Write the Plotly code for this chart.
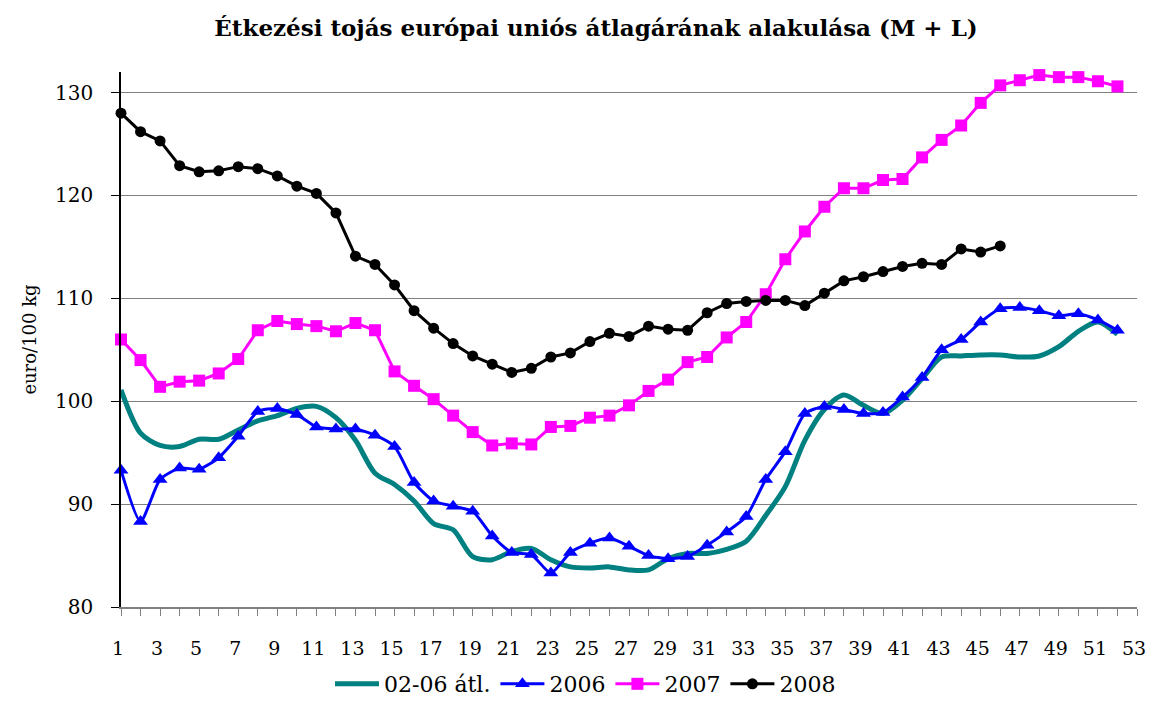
import plotly.graph_objects as go

weeks = list(range(1, 53))
weeks_2008 = list(range(1, 47))

avg_02_06 = [101.1, 96.9, 95.7, 95.6, 96.3, 96.3, 97.2, 98.1, 98.6, 99.3,
             99.5, 98.4, 96.2, 93.0, 91.9, 90.3, 88.1, 87.5, 84.9, 84.6,
             85.4, 85.7, 84.6, 83.9, 83.8, 83.9, 83.6, 83.6, 84.7, 85.2,
             85.2, 85.6, 86.4, 88.9, 91.7, 96.2, 99.2, 100.6, 99.6, 98.8,
             100.1, 102.2, 104.3, 104.4, 104.5, 104.5, 104.3, 104.4, 105.3, 106.8,
             107.7, 106.5]

y2006 = [93.3, 88.3, 92.4, 93.5, 93.4, 94.5, 96.6, 99.0, 99.3, 98.7,
         97.5, 97.3, 97.3, 96.7, 95.6, 92.1, 90.3, 89.8, 89.3, 86.9,
         85.3, 85.1, 83.3, 85.3, 86.2, 86.7, 85.9, 85.0, 84.7, 84.9,
         86.0, 87.3, 88.8, 92.4, 95.1, 98.8, 99.5, 99.2, 98.8, 98.9,
         100.4, 102.3, 105.0, 106.0, 107.7, 109.0, 109.1, 108.8, 108.3, 108.5,
         107.9, 106.9]

y2007 = [106.0, 104.0, 101.4, 101.9, 102.0, 102.7, 104.1, 106.9, 107.8, 107.5,
         107.3, 106.8, 107.6, 106.9, 102.9, 101.5, 100.2, 98.6, 97.0, 95.7,
         95.9, 95.8, 97.5, 97.6, 98.4, 98.6, 99.6, 101.0, 102.1, 103.8,
         104.3, 106.2, 107.7, 110.4, 113.8, 116.5, 118.9, 120.7, 120.7, 121.5,
         121.6, 123.7, 125.4, 126.8, 129.0, 130.7, 131.2, 131.7, 131.5, 131.5,
         131.1, 130.6]

y2008 = [128.0, 126.2, 125.3, 122.9, 122.3, 122.4, 122.8, 122.6, 121.9, 120.9,
         120.2, 118.3, 114.1, 113.3, 111.3, 108.8, 107.1, 105.6, 104.4, 103.6,
         102.8, 103.2, 104.3, 104.7, 105.8, 106.6, 106.3, 107.3, 107.0, 106.9,
         108.6, 109.5, 109.7, 109.8, 109.8, 109.3, 110.5, 111.7, 112.1, 112.6,
         113.1, 113.4, 113.3, 114.8, 114.5, 115.1]

x_tick_labels = [str(w) for w in range(1, 54, 2)]

font_family = "DejaVu Serif"

fig = go.Figure()

fig.add_trace(go.Scatter(
    x=weeks, y=avg_02_06, name='02-06 átl.', mode='lines',
    line=dict(color='#008080', width=5, shape='spline', smoothing=0.8),
    cliponaxis=False
))
fig.add_trace(go.Scatter(
    x=weeks, y=y2006, name='2006', mode='lines+markers',
    line=dict(color='#0000FF', width=3, shape='spline', smoothing=0.6),
    marker=dict(symbol='triangle-up', size=13, color='#0000FF'),
    cliponaxis=False
))
fig.add_trace(go.Scatter(
    x=weeks, y=y2007, name='2007', mode='lines+markers',
    line=dict(color='#FF00FF', width=3),
    marker=dict(symbol='square', size=12, color='#FF00FF'),
    cliponaxis=False
))
fig.add_trace(go.Scatter(
    x=weeks_2008, y=y2008, name='2008', mode='lines+markers',
    line=dict(color='#000000', width=3),
    marker=dict(symbol='circle', size=11, color='#000000'),
    cliponaxis=False
))

# page body has an 8px margin, so the figure is sized to the visible area
fig.update_layout(
    width=1139, height=691,
    paper_bgcolor='white', plot_bgcolor='white',
    margin=dict(l=113, r=10, t=64, b=92, autoexpand=False),
    font=dict(family=font_family, size=20, color='#000000'),
    title=dict(
        text='<b>Étkezési tojás európai uniós átlagárának alakulása (M + L)</b>',
        x=588 / 1139, xanchor='center', y=1 - 20 / 691, yanchor='middle',
        font=dict(family=font_family, size=23)
    ),
    showlegend=True,
    legend=dict(
        orientation='h', xref='container', x=322 / 1139, xanchor='left',
        yref='container', y=(691 - 676) / 691, yanchor='middle',
        font=dict(family=font_family, size=22), itemwidth=44,
        traceorder='normal'
    ),
    xaxis=dict(
        range=[1, 53], tickmode='array',
        tickvals=list(range(1, 54, 2)), ticktext=x_tick_labels,
        showgrid=False, zeroline=False, automargin=False,
        showline=True, linecolor='#808080', linewidth=1.5,
        ticks='outside', ticklen=7, tickcolor='#808080',
        minor=dict(dtick=1, tick0=1, ticks='outside', ticklen=7, tickcolor='#808080', showgrid=False),
        ticklabelstandoff=16, ticklabeloverflow='allow', ticklabelshift=-3,
        tickfont=dict(family=font_family, size=19)
    ),
    yaxis=dict(
        range=[80, 132], tickvals=[80, 90, 100, 110, 120, 130],
        showgrid=True, gridcolor='#808080', gridwidth=1,
        zeroline=False, automargin=False,
        showline=True, linecolor='#000000', linewidth=1.5,
        ticks='outside', ticklen=8, tickcolor='#000000',
        ticklabelstandoff=14,
        tickfont=dict(family=font_family, size=20),
        title=dict(text='euro/100 kg', font=dict(family=font_family, size=18), standoff=14)
    )
)

fig.write_html("out.html")
